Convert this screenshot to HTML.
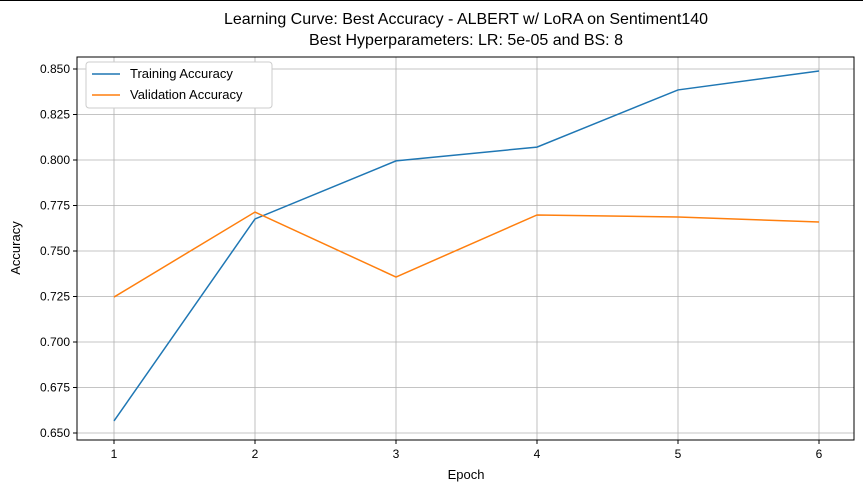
<!DOCTYPE html>
<html><head><meta charset="utf-8"><style>
body{margin:0;background:#fff;}
svg{display:block;font-family:"Liberation Sans","DejaVu Sans",sans-serif;}
</style></head><body>
<svg id="chart" width="863" height="492">
<line x1="0" y1="0.5" x2="863" y2="0.5" stroke="#000"/>
<text x="466" y="24" font-size="16" text-anchor="middle">Learning Curve: Best Accuracy - ALBERT w/ LoRA on Sentiment140</text>
<text x="466" y="45" font-size="16" text-anchor="middle">Best Hyperparameters: LR: 5e-05 and BS: 8</text>
<g id="grid"></g>
<g id="ticks"></g>
<g id="series"></g>
<rect x="77" y="57" width="777" height="383" fill="none" stroke="#000" stroke-width="1"/>
<text x="466" y="479" font-size="13" text-anchor="middle">Epoch</text>
<text x="20" y="248" font-size="13" text-anchor="middle" transform="rotate(-90 20 248)">Accuracy</text>
<g>
<rect x="86" y="62" width="186" height="46" fill="#fff" stroke="#ccc" rx="3"/>
<line x1="92" y1="74" x2="120" y2="74" stroke="#1f77b4" stroke-width="1.5"/>
<text x="130" y="78" font-size="13">Training Accuracy</text>
<line x1="92" y1="95" x2="120" y2="95" stroke="#ff7f0e" stroke-width="1.5"/>
<text x="130" y="99" font-size="13">Validation Accuracy</text>
</g>
</svg>
<script>
const epochs=[1,2,3,4,5,6];
const trainAcc=[0.6566,0.7676,0.7995,0.8071,0.8385,0.8489];
const valAcc=[0.7247,0.7714,0.7357,0.7698,0.7687,0.7659];
const yTicks=[0.650,0.675,0.700,0.725,0.750,0.775,0.800,0.825,0.850];
const NS="http://www.w3.org/2000/svg";
const L=77,R=854,T=57,B=440;
const x=v=>114+(v-1)*141;
const y=v=>433-(v-0.65)*1820;
function mk(tag,attrs,parent){const e=document.createElementNS(NS,tag);for(const k in attrs)e.setAttribute(k,attrs[k]);document.getElementById(parent).appendChild(e);return e;}
epochs.forEach(v=>{
 const g=mk('line',{x1:x(v),x2:x(v),y1:T,y2:B,stroke:'#b0b0b0','stroke-width':0.8},'grid');
 
 
 const t=mk('line',{x1:x(v),x2:x(v),y1:B,y2:B+4,stroke:'#000'},'ticks');
 
 
 const l=mk('text',{x:x(v),y:B+18,'font-size':12,'text-anchor':'middle'},'ticks');
 l.textContent=v;
 
 
});
yTicks.forEach(v=>{
 const g=mk('line',{x1:L,x2:R,y1:y(v),y2:y(v),stroke:'#b0b0b0','stroke-width':0.8},'grid');
 
 
 const t=mk('line',{x1:L-4,x2:L,y1:y(v),y2:y(v),stroke:'#000'},'ticks');
 
 
 const l=mk('text',{x:L-7,y:y(v)+4,'font-size':12,'text-anchor':'end'},'ticks');
 l.textContent=v.toFixed(3);
 
 
});
const p1=mk('polyline',{points:epochs.map((e,i)=>x(e)+','+y(trainAcc[i])).join(' '),fill:'none',stroke:'#1f77b4','stroke-width':1.5},'series');


const p2=mk('polyline',{points:epochs.map((e,i)=>x(e)+','+y(valAcc[i])).join(' '),fill:'none',stroke:'#ff7f0e','stroke-width':1.5},'series');


</script>
</body></html>
